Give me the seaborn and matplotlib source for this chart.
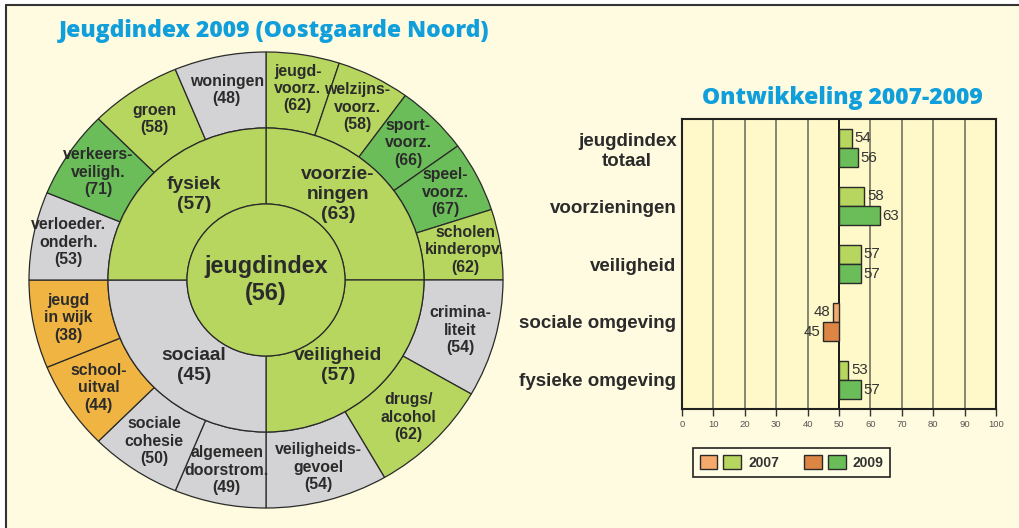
import numpy as np
import pandas as pd
import matplotlib.pyplot as plt
import seaborn as sns
from matplotlib.patches import Patch, Rectangle
from matplotlib.lines import Line2D
from matplotlib.legend_handler import HandlerTuple
from matplotlib.ticker import FuncFormatter

# --- data: sunburst (clockwise from 12 o'clock) ---
center_name = 'jeugdindex'
center_value = 56
domain_names = ['voorzie-\nningen', 'veiligheid', 'sociaal', 'fysiek']
domain_values = [63, 57, 45, 57]
sub_domain = [0, 0, 0, 0, 0, 1, 1, 1, 2, 2, 2, 2, 3, 3, 3, 3]
sub_names = ['jeugd-\nvoorz.', 'welzijns-\nvoorz.', 'sport-\nvoorz.', 'speel-\nvoorz.',
             'scholen\nkinderopv.', 'crimina-\nliteit', 'drugs/\nalcohol',
             'veiligheids-\ngevoel', 'algemeen\ndoorstrom.', 'sociale\ncohesie',
             'school-\nuitval', 'jeugd\nin wijk', 'verloeder.\nonderh.',
             'verkeers-\nveiligh.', 'groen', 'woningen']
sub_values = [62, 58, 66, 67, 62, 54, 62, 54, 49, 50, 44, 38, 53, 71, 58, 48]

# --- data: development 2007-2009 ---
bar_categories = ['jeugdindex\ntotaal', 'voorzieningen', 'veiligheid',
                  'sociale omgeving', 'fysieke omgeving']
values_2007 = [54, 58, 57, 48, 53]
values_2009 = [56, 63, 57, 45, 57]
baseline = 50

# colours
LIGHT_GREEN = '#b6d65f'
DARK_GREEN = '#6abd58'
GREY = '#d3d3d5'
ORANGE = '#efb442'
LIGHT_ORANGE = '#f5aa6c'
DARK_ORANGE = '#dc8545'
EDGE = '#2a2a2a'
TXT = '#2b2b2b'
BLUE = '#119fdc'
BG = '#fffbe0'
PANEL = '#fff8c8'


def score_colour(v):
    if v < 45:
        return ORANGE
    if v < 55:
        return GREY
    if v <= 65:
        return LIGHT_GREEN
    return DARK_GREEN


sns.set_theme(style='white')
plt.rcParams['font.family'] = ['Liberation Sans', 'DejaVu Sans']

W, H = 1020, 528
fig = plt.figure(figsize=(W / 100, H / 100), dpi=100, facecolor='white')
fig.add_artist(Rectangle((6 / W, 0), 1, 1 - 5 / H, transform=fig.transFigure,
                         facecolor=BG, edgecolor='none', zorder=-10))
fig.add_artist(Line2D([6 / W, 1], [1 - 5 / H, 1 - 5 / H], color='#333', lw=1.5))
fig.add_artist(Line2D([6 / W, 6 / W], [0, 1 - 5 / H], color='#333', lw=1.5))

# ---------------- sunburst ----------------
cx, cy, rx, ry = 266, 280, 237, 228
lim = 1.04
ax = fig.add_axes([(cx - rx * lim) / W, (H - cy - ry * lim) / H,
                   2 * rx * lim / W, 2 * ry * lim / H])
n_per_domain = [sub_domain.count(d) for d in range(len(domain_names))]
sizes = [1 / n_per_domain[d] for d in sub_domain]
wprops = dict(edgecolor=EDGE, linewidth=0.9)

outer, _ = ax.pie(sizes, radius=1, startangle=90, counterclock=False,
                  colors=[score_colour(v) for v in sub_values],
                  wedgeprops=dict(width=1 / 3, **wprops))
middle, _ = ax.pie([1] * len(domain_names), radius=2 / 3, startangle=90, counterclock=False,
                   colors=[score_colour(v) for v in domain_values],
                   wedgeprops=dict(width=1 / 3, **wprops))
inner, _ = ax.pie([1], radius=1 / 3, startangle=90, colors=[score_colour(center_value)],
                  wedgeprops=wprops)
ax.set_aspect('auto')
ax.set_xlim(-lim, lim)
ax.set_ylim(-lim, lim)
ax.axis('off')

for w, name, v in zip(outer, sub_names, sub_values):
    a = np.deg2rad((w.theta1 + w.theta2) / 2)
    ax.text(0.85 * np.cos(a), 0.85 * np.sin(a), f'{name}\n({v})', ha='center', va='center',
            fontsize=11.4, fontweight='bold', color=TXT, linespacing=1.2)
for w, name, v in zip(middle, domain_names, domain_values):
    a = np.deg2rad((w.theta1 + w.theta2) / 2)
    ax.text(0.43 * np.cos(a), 0.53 * np.sin(a), f'{name}\n({v})', ha='center', va='center',
            fontsize=13.8, fontweight='bold', color=TXT, linespacing=1.2)
ax.text(0, 0, f'{center_name}\n({center_value})', ha='center', va='center',
        fontsize=16.8, fontweight='bold', color=TXT, linespacing=1.2)

fig.text(274 / W, 1 - 31 / H, 'Jeugdindex 2009 (Oostgaarde Noord)', ha='center', va='center',
         fontsize=16.5, fontweight='heavy', family='Open Sans', color=BLUE)

# ---------------- bar chart ----------------
bx = fig.add_axes([682 / W, (H - 409) / H, 314 / W, 290 / H])
df = pd.DataFrame({'categorie': bar_categories * 2,
                   'jaar': ['2007'] * len(values_2007) + ['2009'] * len(values_2009),
                   'waarde': values_2007 + values_2009})
df['afwijking'] = df['waarde'] - baseline
sns.barplot(data=df, x='afwijking', y='categorie', hue='jaar', orient='h', width=0.67,
            errorbar=None, ax=bx, edgecolor=EDGE, linewidth=1, legend=False, zorder=3)

pos_cols = {'2007': LIGHT_GREEN, '2009': DARK_GREEN}
neg_cols = {'2007': LIGHT_ORANGE, '2009': DARK_ORANGE}
for year, cont, vals in zip(['2007', '2009'], bx.containers, [values_2007, values_2009]):
    for bar, v in zip(cont, vals):
        bar.set_facecolor(pos_cols[year] if v >= baseline else neg_cols[year])
    bx.bar_label(cont, labels=[str(v) for v in vals], padding=2, fontsize=10.8, color='#333')

bx.set_facecolor(PANEL)
bx.set_xlim(-50, 50)
bx.set_xticks(np.arange(-50, 51, 10))
bx.xaxis.set_major_formatter(FuncFormatter(lambda x, p: f'{x + baseline:.0f}'))
bx.set_xlabel('')
bx.set_ylabel('')
bx.grid(axis='x', color='#66665a', lw=1.1)
bx.set_axisbelow(True)
bx.axvline(0, color='#111', lw=1.3, zorder=2)
for s in bx.spines.values():
    s.set_color('#222')
    s.set_linewidth(1.5)
bx.tick_params(axis='y', length=0, pad=4, labelsize=13.5, labelcolor=TXT)
bx.tick_params(axis='x', bottom=True, direction='out', length=5, width=1, color='#333',
               labelsize=6.8, labelcolor='#555', pad=3)
for t in bx.get_yticklabels():
    t.set_fontweight('bold')
    t.set_multialignment('center')

fig.text(842 / W, 1 - 98 / H, 'Ontwikkeling 2007-2009', ha='center', va='center',
         fontsize=16.5, fontweight='heavy', family='Open Sans', color=BLUE)

h07 = (Patch(fc=LIGHT_ORANGE, ec=EDGE), Patch(fc=LIGHT_GREEN, ec=EDGE))
h09 = (Patch(fc=DARK_ORANGE, ec=EDGE), Patch(fc=DARK_GREEN, ec=EDGE))
leg = fig.legend([h07, h09], ['2007', '2009'],
                 handler_map={tuple: HandlerTuple(ndivide=None, pad=0.45)},
                 loc='center', bbox_to_anchor=(791.5 / W, 1 - 462.5 / H), ncol=2,
                 frameon=True, fancybox=False, edgecolor='#222', facecolor='#fffde4',
                 framealpha=1, prop=dict(weight='bold', size=10), handlelength=3.0,
                 handleheight=1.2, handletextpad=0.5, columnspacing=1.8, borderpad=0.5,
                 borderaxespad=0)
leg.get_frame().set_linewidth(1.2)
for t in leg.get_texts():
    t.set_color('#333')

fig.savefig('out.png', dpi=100, facecolor=fig.get_facecolor())
